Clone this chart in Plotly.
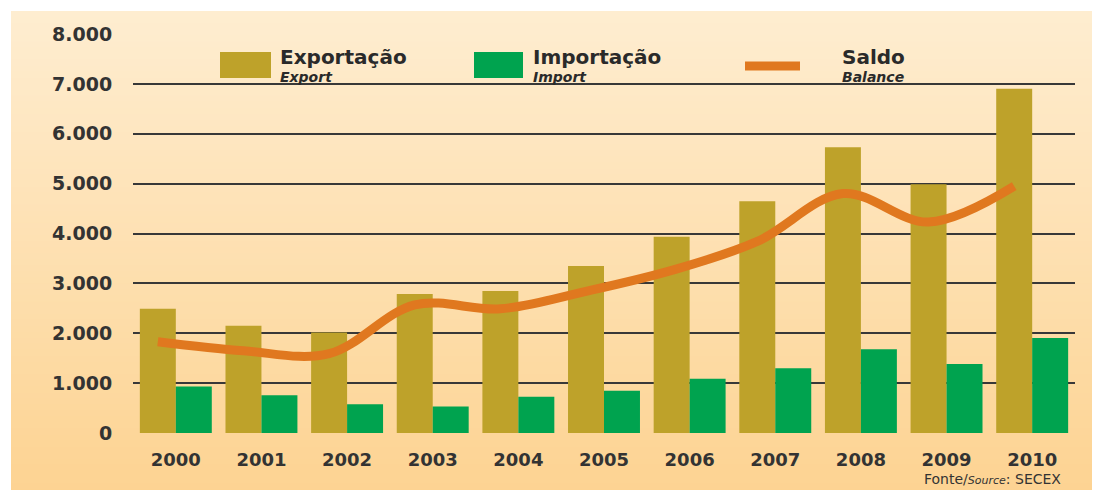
import plotly.graph_objects as go

# ---------------- data ----------------
years = [2000, 2001, 2002, 2003, 2004, 2005, 2006, 2007, 2008, 2009, 2010]
year_labels = ["2000", "2001", "2002", "2003", "2004", "2005", "2006", "2007", "2008", "2009", "2010"]
export_vals = [2490, 2150, 2015, 2785, 2846, 3347, 3934, 4649, 5731, 4985, 6900]
import_vals = [930, 757, 577, 530, 728, 845, 1090, 1298, 1678, 1385, 1904]
balance_vals = [1830, 1650, 1590, 2570, 2490, 2840, 3260, 3840, 4800, 4230, 4950]

y_ticks = [0, 1000, 2000, 3000, 4000, 5000, 6000, 7000, 8000]
y_labels = ["0", "1.000", "2.000", "3.000", "4.000", "5.000", "6.000", "7.000", "8.000"]

series_pt = ["Exportação", "Importação", "Saldo"]
series_en = ["Export", "Import", "Balance"]
source_text = "Fonte/<i><span style='font-size:11px'>Source</span></i>: SECEX"

# ---------------- style ----------------
C_EXP = "#BEA22A"
C_IMP = "#00A34F"
C_BAL = "#E0781F"
TXT = "#333333"
FONT = "DejaVu Sans"

OFF = 8  # page body margin
W, H = 1100 - OFF, 490 - OFF
L, R, T, B = 133 - OFF, 25, 34 - OFF, 57
PW, PH = W - L - R, H - T - B
BARGAP = 0.16

def px(x):  # page pixel -> paper
    return (x - OFF - L) / PW

def py(y):
    return (H - B - (y - OFF)) / PH

fig = go.Figure()

fig.add_trace(go.Bar(x=years, y=export_vals, name=series_en[0], marker_color=C_EXP,
                     marker_line_width=0))
fig.add_trace(go.Bar(x=years, y=import_vals, name=series_en[1], marker_color=C_IMP,
                     marker_line_width=0))
# balance line sits at the centre of the export bar
offset = -(1 - BARGAP) / 4
fig.add_trace(go.Scatter(x=[y + offset for y in years], y=balance_vals, name=series_en[2],
                         mode="lines", line=dict(color=C_BAL, width=9, shape="spline", smoothing=1.0)))

shapes = []
# gradient background panel
n = 80
x0, x1 = px(11), px(1100 + 5)
ytop, ybot = py(11), py(490 + 5)
c_top = (254, 237, 208)
c_bot = (253, 211, 146)
for i in range(n):
    t = i / (n - 1)
    c = tuple(round(c_top[k] + (c_bot[k] - c_top[k]) * t) for k in range(3))
    ya = ytop + (ybot - ytop) * i / n
    yb = ytop + (ybot - ytop) * (i + 1.3) / n
    shapes.append(dict(type="rect", xref="paper", yref="paper", x0=x0, x1=x1, y0=ya, y1=yb,
                       fillcolor="rgb(%d,%d,%d)" % c, line_width=0, layer="below"))

annotations = []
# custom legend
leg = [(220, 271, C_EXP, "rect", 278), (474, 523, C_IMP, "rect", 531), (741, 804, C_BAL, "line", 840)]
for (xa, xb, col, kind, tx), pt, en in zip(leg, series_pt, series_en):
    if kind == "rect":
        shapes.append(dict(type="rect", xref="paper", yref="paper", x0=px(xa), x1=px(xb),
                           y0=py(78), y1=py(52), fillcolor=col, line_width=0, layer="above"))
    else:
        shapes.append(dict(type="line", xref="paper", yref="paper", x0=px(xa + 4), x1=px(xb - 4),
                           y0=py(66), y1=py(66), line=dict(color=col, width=9), layer="above"))
    annotations.append(dict(xref="paper", yref="paper", x=px(tx), y=py(43), xanchor="left",
                            yanchor="top", align="left", showarrow=False,
                            text="<span style='font-size:20px'><b>%s</b></span><br><b><i>%s</i></b>" % (pt, en),
                            font=dict(family=FONT, size=14, color="#2a2a2a")))

annotations.append(dict(xref="paper", yref="paper", x=px(1063), y=py(489), xanchor="right",
                        yanchor="bottom", showarrow=False, text=source_text,
                        font=dict(family=FONT, size=14, color=TXT)))

fig.update_layout(
    width=W, height=H,
    margin=dict(l=L, r=R, t=T, b=B, pad=0),
    paper_bgcolor="white", plot_bgcolor="rgba(0,0,0,0)",
    barmode="group", bargap=BARGAP, bargroupgap=0,
    showlegend=False,
    shapes=shapes, annotations=annotations,
    font=dict(family=FONT, color=TXT),
)
fig.update_xaxes(range=[1999.5, 2010.5], tickmode="array", tickvals=years, ticktext=year_labels,
                 showgrid=False, zeroline=False, showline=False,
                 ticks="outside", ticklen=10, tickcolor="rgba(0,0,0,0)",
                 tickfont=dict(family=FONT, size=18, color=TXT, weight="bold"))
fig.update_yaxes(range=[0, 8000], tickmode="array", tickvals=y_ticks, ticktext=y_labels,
                 showgrid=True, gridcolor="#383838", gridwidth=1.6, zeroline=False, showline=False,
                 ticks="outside", ticklen=16, tickcolor="rgba(0,0,0,0)",
                 tickfont=dict(family=FONT, size=19, color=TXT, weight="bold"))

fig.write_html("out.html")
